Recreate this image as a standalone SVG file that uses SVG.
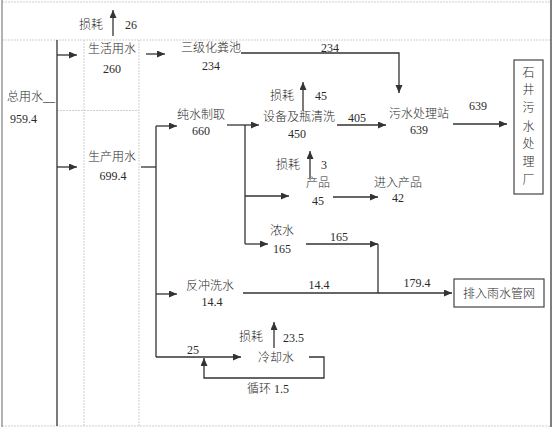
<svg xmlns="http://www.w3.org/2000/svg" width="554" height="429" viewBox="0 0 554 429">
<defs>
<marker id="ah" markerUnits="userSpaceOnUse" markerWidth="9" markerHeight="8" refX="8" refY="3.5" orient="auto">
<path d="M0,0 L8,3.5 L0,7 z" fill="#333"/>
</marker>
<style>
text{font-family:"Liberation Serif","Noto Sans CJK SC",serif;font-size:12px;fill:#2a2a2a;font-weight:300}
.m{text-anchor:middle}
.grid{stroke:#cfcfcf;stroke-width:1;stroke-dasharray:2,1;fill:none}
.ln{stroke:#333;stroke-width:1.3;fill:none}
.ar{stroke:#333;stroke-width:1.3;fill:none;marker-end:url(#ah)}
.box{stroke:#444;stroke-width:1.2;fill:#fff}
</style>
</defs>
<rect width="554" height="429" fill="#fff"/>
<g id="grid">
<line class="grid" x1="2" y1="2" x2="551" y2="2"/>
<line class="grid" x1="2" y1="40" x2="551" y2="40"/>
<line class="grid" x1="2" y1="426" x2="551" y2="426"/>
<line class="grid" x1="84" y1="40" x2="84" y2="426"/>
<line class="grid" x1="139" y1="40" x2="139" y2="426"/>
<line class="grid" x1="57" y1="110.5" x2="139" y2="110.5"/>
<line x1="2" y1="0" x2="2" y2="427" stroke="#999" stroke-width="1.5"/>
<line x1="551" y1="0" x2="551" y2="427" stroke="#555" stroke-width="1.5"/>
<line x1="57" y1="40" x2="57" y2="426" stroke="#333" stroke-width="1.3"/>
</g>
<g id="connectors">
<line class="ar" x1="113" y1="36" x2="113" y2="10"/>
<line class="ar" x1="57" y1="55" x2="77" y2="55"/>
<line class="ar" x1="146" y1="54" x2="165" y2="54"/>
<polyline class="ar" points="241,53 399,53 399,93"/>
<line class="ar" x1="57" y1="167" x2="77" y2="167"/>
<line class="ln" x1="141" y1="167" x2="156" y2="167"/>
<line class="ln" x1="156" y1="126" x2="156" y2="357"/>
<line class="ar" x1="156" y1="126" x2="177" y2="126"/>
<line class="ar" x1="156" y1="294" x2="177" y2="294"/>
<line class="ar" x1="156" y1="357" x2="241" y2="357"/>
<line class="ar" x1="227" y1="125" x2="259" y2="125"/>
<line class="ln" x1="245" y1="125" x2="245" y2="244"/>
<line class="ar" x1="245" y1="196" x2="289" y2="196"/>
<line class="ar" x1="245" y1="244" x2="268" y2="244"/>
<line class="ar" x1="303" y1="111" x2="303" y2="82"/>
<line class="ar" x1="337" y1="125" x2="386" y2="125"/>
<line class="ar" x1="453" y1="124" x2="507" y2="124"/>
<line class="ar" x1="310" y1="178" x2="310" y2="151"/>
<line class="ar" x1="333" y1="197" x2="378" y2="197"/>
<line class="ar" x1="306" y1="244" x2="378" y2="244"/>
<line class="ln" x1="378" y1="244" x2="378" y2="293"/>
<line class="ar" x1="243" y1="293" x2="452" y2="293"/>
<line class="ar" x1="274" y1="348" x2="274" y2="322"/>
<polyline class="ar" points="309,357 324,357 324,378 204,378 204,358"/>
</g>
<g id="loss-top"><text class="m" x="91" y="29">损耗</text><text class="m" x="131" y="29">26</text></g>
<g id="total"><text x="7" y="101">总用水__</text><text x="10" y="123">959.4</text></g>
<g id="domestic"><text class="m" x="112" y="53">生活用水</text><text class="m" x="112" y="73">260</text></g>
<g id="septic"><text class="m" x="211" y="52">三级化粪池</text><text class="m" x="211" y="70">234</text><text class="m" x="330" y="52">234</text></g>
<g id="production"><text class="m" x="112" y="161">生产用水</text><text class="m" x="113" y="180">699.4</text></g>
<g id="purify"><text class="m" x="201" y="119">纯水制取</text><text class="m" x="201" y="135">660</text></g>
<g id="wash"><text class="m" x="282" y="100">损耗</text><text class="m" x="321" y="100">45</text><text class="m" x="299" y="121">设备及瓶清洗</text><text class="m" x="297" y="138">450</text><text class="m" x="357" y="122">405</text></g>
<g id="wwtp"><text class="m" x="419" y="118">污水处理站</text><text class="m" x="419" y="134">639</text><text class="m" x="478" y="110">639</text></g>
<g id="plant"><rect class="box" x="514" y="60" width="29" height="134"/>
<text class="m" x="528.5" y="77">石</text><text class="m" x="528.5" y="94">井</text><text class="m" x="528.5" y="112">污</text><text class="m" x="528.5" y="131">水</text><text class="m" x="528.5" y="148">处</text><text class="m" x="528.5" y="166">理</text><text class="m" x="528.5" y="184">厂</text></g>
<g id="product"><text class="m" x="288" y="169">损耗</text><text class="m" x="324" y="169">3</text><text class="m" x="318" y="187">产品</text><text class="m" x="318" y="205">45</text></g>
<g id="into-product"><text class="m" x="398" y="187">进入产品</text><text class="m" x="398" y="202">42</text></g>
<g id="concentrate"><text class="m" x="282" y="235">浓水</text><text class="m" x="282" y="253">165</text><text class="m" x="339" y="241">165</text></g>
<g id="backwash"><text class="m" x="210" y="290">反冲洗水</text><text class="m" x="212" y="306">14.4</text><text class="m" x="319" y="289">14.4</text><text class="m" x="417" y="287">179.4</text></g>
<g id="storm"><rect class="box" x="454" y="279" width="90" height="28"/><text class="m" x="499" y="298">排入雨水管网</text></g>
<g id="cooling"><text class="m" x="251" y="341">损耗</text><text x="283" y="342">23.5</text><text class="m" x="193" y="354">25</text><text class="m" x="276" y="362">冷却水</text><text x="247" y="393">循环 1.5</text></g>
</svg>
